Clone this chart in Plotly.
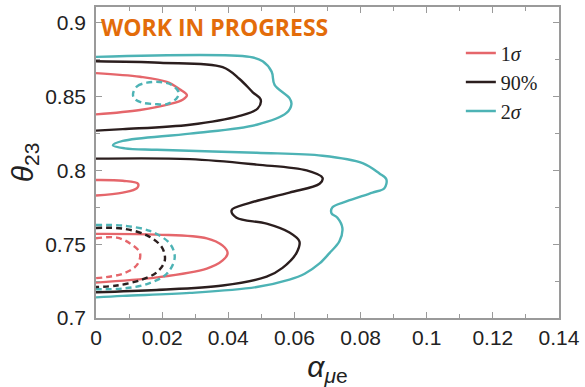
import plotly.graph_objects as go

# Allowed-region contours in the (alpha_mue, theta23) plane
# Solid curves
sig2_x = [0.0, 0.0465, 0.0504, 0.0531, 0.0540, 0.0585, 0.0591, 0.0576, 0.0486, 0.0284, 0.0081, 0.0051,
          0.0087, 0.0184, 0.0486, 0.0685, 0.0806, 0.0857, 0.0878, 0.0872, 0.0836, 0.0757, 0.0715, 0.0712,
          0.0730, 0.0745, 0.0736, 0.0706, 0.0676, 0.0631, 0.0585, 0.0486, 0.0284, 0.0081, 0.0]
sig2_y = [0.877, 0.877, 0.874, 0.867, 0.858, 0.849, 0.845, 0.839, 0.831, 0.825, 0.820, 0.817,
          0.815, 0.814, 0.812, 0.810, 0.805, 0.798, 0.794, 0.788, 0.785, 0.779, 0.775, 0.771,
          0.768, 0.761, 0.752, 0.744, 0.737, 0.730, 0.726, 0.721, 0.717, 0.715, 0.714]

cl90_up_x = [0.0, 0.0193, 0.0383, 0.0434, 0.0474, 0.0498, 0.0489, 0.0434, 0.0284, 0.0081, 0.0]
cl90_up_y = [0.874, 0.873, 0.870, 0.862, 0.853, 0.848, 0.842, 0.837, 0.831, 0.828, 0.827]

cl90_lo_x = [0.0, 0.0284, 0.0486, 0.0637, 0.0685, 0.0676, 0.0585, 0.0465, 0.0410, 0.0425, 0.0516,
             0.0585, 0.0615, 0.0606, 0.0564, 0.0516, 0.0383, 0.0184, 0.0]
cl90_lo_y = [0.808, 0.8077, 0.804, 0.800, 0.795, 0.791, 0.785, 0.778, 0.773, 0.768, 0.764,
             0.758, 0.752, 0.744, 0.734, 0.728, 0.722, 0.719, 0.7175]

sig1_up_x = [0.0, 0.0133, 0.0214, 0.0253, 0.0275, 0.0262, 0.0223, 0.0133, 0.0]
sig1_up_y = [0.866, 0.8635, 0.860, 0.855, 0.851, 0.848, 0.845, 0.841, 0.838]

sig1_mid_x = [0.0, 0.0081, 0.0127, 0.0124, 0.0081, 0.0]
sig1_mid_y = [0.7935, 0.793, 0.791, 0.788, 0.785, 0.783]

sig1_lo_x = [0.0, 0.0184, 0.0335, 0.0383, 0.0398, 0.0383, 0.0335, 0.0184, 0.0]
sig1_lo_y = [0.757, 0.7565, 0.754, 0.749, 0.744, 0.739, 0.7335, 0.7275, 0.724]

# Dashed curves
d_sig2_up_x = [0.0112, 0.0124, 0.0154, 0.0193, 0.0229, 0.0250, 0.0244, 0.0214, 0.0178, 0.0139, 0.0115, 0.0112]
d_sig2_up_y = [0.852, 0.857, 0.8595, 0.860, 0.858, 0.853, 0.849, 0.845, 0.845, 0.846, 0.849, 0.852]

d_sig2_lo_x = [0.0, 0.0081, 0.0163, 0.0223, 0.0238, 0.0214, 0.0154, 0.0081, 0.0]
d_sig2_lo_y = [0.763, 0.7626, 0.759, 0.7505, 0.741, 0.730, 0.723, 0.720, 0.7195]

d_cl90_lo_x = [0.0, 0.0081, 0.0154, 0.0199, 0.0208, 0.0184, 0.0133, 0.0063, 0.0]
d_cl90_lo_y = [0.761, 0.7606, 0.756, 0.748, 0.739, 0.731, 0.7256, 0.722, 0.721]

d_sig1_lo_x = [0.0, 0.0063, 0.0103, 0.0133, 0.0124, 0.0081, 0.0]
d_sig1_lo_y = [0.754, 0.7545, 0.7505, 0.744, 0.736, 0.730, 0.727]

RED = "#E5666B"
BLACK = "#2B1E1E"
TEAL = "#4DB3B5"
SANS = "Liberation Sans"
SERIF = "Liberation Serif"

fig = go.Figure()


def add_curve(xs, ys, color, name, legend=False, dash="solid", group=None):
    fig.add_trace(go.Scatter(
        x=xs, y=ys, mode="lines", name=name,
        line=dict(color=color, width=2.4, dash=dash, shape="spline", smoothing=1.0),
        showlegend=legend, legendgroup=group or name, hoverinfo="skip",
    ))


add_curve(sig1_up_x, sig1_up_y, RED, "1<i>σ</i>", legend=True, group="g1")
add_curve(sig1_mid_x, sig1_mid_y, RED, "1<i>σ</i>", group="g1")
add_curve(sig1_lo_x, sig1_lo_y, RED, "1<i>σ</i>", group="g1")
add_curve(cl90_up_x, cl90_up_y, BLACK, "90%", legend=True, group="g2")
add_curve(cl90_lo_x, cl90_lo_y, BLACK, "90%", group="g2")
add_curve(sig2_x, sig2_y, TEAL, "2<i>σ</i>", legend=True, group="g3")

dash_pat = "6px,4px"
add_curve(d_sig2_up_x, d_sig2_up_y, TEAL, "2<i>σ</i>", dash=dash_pat, group="g3")
add_curve(d_sig2_lo_x, d_sig2_lo_y, TEAL, "2<i>σ</i>", dash=dash_pat, group="g3")
add_curve(d_cl90_lo_x, d_cl90_lo_y, BLACK, "90%", dash=dash_pat, group="g2")
add_curve(d_sig1_lo_x, d_sig1_lo_y, RED, "1<i>σ</i>", dash=dash_pat, group="g1")

axis_common = dict(
    showline=True, linecolor="#9a9a9a", linewidth=1.5, mirror="ticks",
    ticks="inside", ticklen=6, tickcolor="#9a9a9a", tickwidth=1.2,
    showgrid=False, zeroline=False,
    tickfont=dict(family=SANS, size=21, color="#222222"),
)

fig.update_xaxes(
    range=[0, 0.14], dtick=0.02, tick0=0,
    minor=dict(ticks="inside", dtick=0.01, ticklen=4, tickcolor="#9a9a9a"),
    title=dict(text="<i>α</i><sub><i>μ</i>e</sub>", font=dict(family=SANS, size=30, color="#222222"), standoff=12),
    **axis_common,
)
fig.update_yaxes(
    range=[0.7, 0.9108], dtick=0.05, tick0=0.7,
    minor=dict(ticks="inside", dtick=0.025, ticklen=4, tickcolor="#9a9a9a"),
    title=dict(text="<i>θ</i><sub>23</sub>", font=dict(family=SANS, size=30, color="#222222"), standoff=3),
    ticklabelstandoff=4,
    **axis_common,
)

fig.add_annotation(
    text="<b>WORK IN PROGRESS</b>", xref="paper", yref="paper",
    x=0.006, y=0.995, xanchor="left", yanchor="top", showarrow=False,
    font=dict(family="Open Sans", size=23, color="#E36C0A"),
)

fig.update_layout(
    width=585, height=387,
    margin=dict(l=96, r=26, t=5, b=69),
    paper_bgcolor="white", plot_bgcolor="white",
    legend=dict(
        x=0.788, y=0.915, xanchor="left", yanchor="top",
        font=dict(family=SERIF, size=20, color="#222222"),
        bgcolor="rgba(0,0,0,0)", tracegroupgap=0, traceorder="grouped",
    ),
)

fig.write_html("out.html")
